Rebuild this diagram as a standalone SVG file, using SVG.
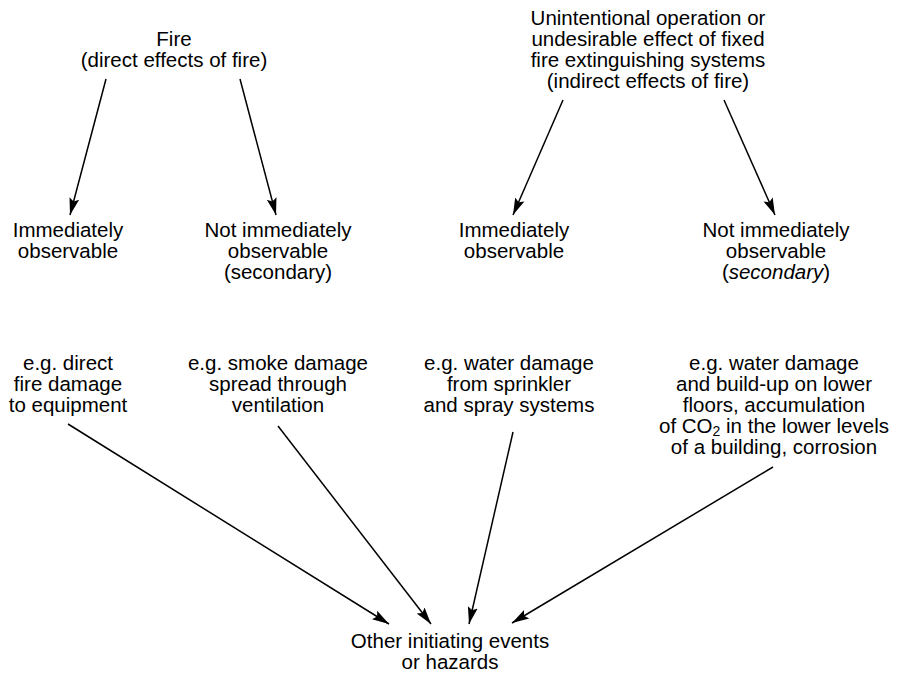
<svg xmlns="http://www.w3.org/2000/svg" width="900" height="673" viewBox="0 0 900 673">
<defs>
<style>
text{font-family:"Liberation Sans",Arial,Helvetica,sans-serif;font-size:20.5px;fill:#000;text-anchor:middle}
.c{stroke:#000;stroke-width:1.5;fill:none;marker-end:url(#ah)}
</style>
<marker id="ah" markerUnits="userSpaceOnUse" markerWidth="18" markerHeight="12" refX="17" refY="5" orient="auto" viewBox="0 0 18 10">
<path d="M0,0 L17,5 L0,10 L3,5 Z" fill="#000"/>
</marker>
</defs>
<rect width="900" height="673" fill="#fff"/>
<g id="fire">
<text x="174" y="46">Fire</text>
<text x="174" y="67">(direct effects of fire)</text>
</g>
<g id="unintentional">
<text x="648" y="25">Unintentional operation or</text>
<text x="648" y="46">undesirable effect of fixed</text>
<text x="648" y="67">fire extinguishing systems</text>
<text x="648" y="88">(indirect effects of fire)</text>
</g>
<g id="imm1">
<text x="68" y="237">Immediately</text>
<text x="68" y="258">observable</text>
</g>
<g id="notimm1">
<text x="278" y="237">Not immediately</text>
<text x="278" y="258">observable</text>
<text x="278" y="279">(secondary)</text>
</g>
<g id="imm2">
<text x="514" y="237">Immediately</text>
<text x="514" y="258">observable</text>
</g>
<g id="notimm2">
<text x="776" y="237">Not immediately</text>
<text x="776" y="258">observable</text>
<text x="776" y="279">(<tspan font-style="italic">secondary</tspan>)</text>
</g>
<g id="ex1">
<text x="68" y="370">e.g. direct</text>
<text x="68" y="391">fire damage</text>
<text x="68" y="412">to equipment</text>
</g>
<g id="ex2">
<text x="278" y="370">e.g. smoke damage</text>
<text x="278" y="391">spread through</text>
<text x="278" y="412">ventilation</text>
</g>
<g id="ex3">
<text x="509" y="370">e.g. water damage</text>
<text x="509" y="391">from sprinkler</text>
<text x="509" y="412">and spray systems</text>
</g>
<g id="ex4">
<text x="774" y="370">e.g. water damage</text>
<text x="774" y="391">and build-up on lower</text>
<text x="774" y="412">floors, accumulation</text>
<text x="774" y="433">of CO<tspan font-size="14" dy="3">2</tspan><tspan dy="-3"> in the lower levels</tspan></text>
<text x="774" y="454">of a building, corrosion</text>
</g>
<g id="other">
<text x="450" y="648">Other initiating events</text>
<text x="450" y="669">or hazards</text>
</g>
<g id="connectors">
<line class="c" x1="106" y1="79" x2="70" y2="215"/>
<line class="c" x1="240" y1="79" x2="276" y2="215"/>
<line class="c" x1="563" y1="100" x2="513" y2="215"/>
<line class="c" x1="724" y1="100" x2="775" y2="215"/>
<line class="c" x1="68" y1="424" x2="389" y2="624"/>
<line class="c" x1="278" y1="426" x2="431" y2="624"/>
<line class="c" x1="513" y1="432" x2="469" y2="624"/>
<line class="c" x1="773" y1="467" x2="512" y2="623"/>
</g>
</svg>
